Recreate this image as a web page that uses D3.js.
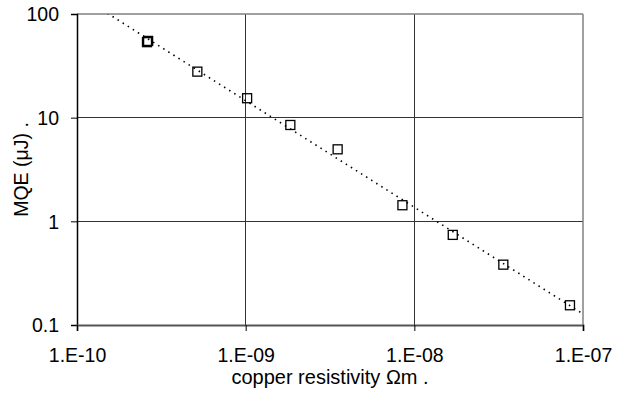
<!DOCTYPE html>
<html>
<head>
<meta charset="utf-8">
<script src="https://cdn.jsdelivr.net/npm/d3@7"></script>
<style>
  body { margin: 0; background: #fff; }
  text { font-family: "Liberation Sans", Arial, sans-serif; fill: #000; }
</style>
</head>
<body>
<div id="chart"></div>
<script>
// copper resistivity (Ohm m) vs MQE (uJ)
const resistivity = [2.6e-10, 2.64e-10, 5.17e-10, 1.02e-9, 1.84e-9, 3.51e-9, 8.5e-9, 1.69e-8, 3.37e-8, 8.37e-8];
const mqe = [53.5, 55, 27.8, 15.4, 8.5, 4.95, 1.43, 0.74, 0.382, 0.155];
const xTicks = [1e-10, 1e-9, 1e-8, 1e-7];
const xTickLabels = ['1.E-10', '1.E-09', '1.E-08', '1.E-07'];
const yTicks = [0.1, 1, 10, 100];
const yTickLabels = ['0.1', '1', '10', '100'];

const width = 625, height = 394;
const margin = { top: 14, right: 42, bottom: 69, left: 77 };
const w = width - margin.left - margin.right;
const h = height - margin.top - margin.bottom;
const fs = 19.5;

const svg = d3.select('#chart').append('svg')
  .attr('width', width)
  .attr('height', height);

const x = d3.scaleLog().domain([1e-10, 1e-7]).range([0, w]);
const y = d3.scaleLog().domain([0.1, 100]).range([h, 0]);

const g = svg.append('g').attr('transform', `translate(${margin.left},${margin.top})`);

// gridlines
g.selectAll('.hgrid').data(yTicks.slice(1, 3)).enter().append('line')
  .attr('x1', 0).attr('x2', w)
  .attr('y1', d => y(d)).attr('y2', d => y(d))
  .attr('stroke', '#333').attr('stroke-width', 1).attr('shape-rendering', 'crispEdges');
g.selectAll('.vgrid').data(xTicks.slice(1, 3)).enter().append('line')
  .attr('y1', 0).attr('y2', h)
  .attr('x1', d => x(d)).attr('x2', d => x(d))
  .attr('stroke', '#333').attr('stroke-width', 1).attr('shape-rendering', 'crispEdges');

// frame
g.append('line').attr('x1', 0).attr('x2', w).attr('y1', 0).attr('y2', 0)
  .attr('stroke', '#808080').attr('stroke-width', 1.5);
g.append('line').attr('x1', w).attr('x2', w).attr('y1', 0).attr('y2', h)
  .attr('stroke', '#808080').attr('stroke-width', 1.5);

// axes
const yAxis = g.append('g')
  .call(d3.axisLeft(y).tickValues(yTicks).tickFormat((d, i) => yTickLabels[i]).tickSize(6).tickPadding(12));
yAxis.select('.domain').attr('stroke', '#000').attr('stroke-width', 1.5);
yAxis.selectAll('.tick line').attr('stroke', '#000');
yAxis.selectAll('.tick text').attr('font-size', fs).attr('dy', '0.35em');

const xAxis = g.append('g').attr('transform', `translate(0,${h})`)
  .call(d3.axisBottom(x).tickValues(xTicks).tickFormat((d, i) => xTickLabels[i]).tickSize(6));
xAxis.select('.domain').attr('stroke', '#555').attr('stroke-width', 2);
xAxis.selectAll('.tick line').attr('stroke', '#000');
xAxis.selectAll('.tick text').attr('font-size', fs).attr('y', 36.5).attr('dy', 0);
yAxis.attr('font-family', null);
xAxis.attr('font-family', null);

// power-law trendline (least squares in log-log)
const lx = resistivity.map(Math.log10), ly = mqe.map(Math.log10);
const mx = d3.mean(lx), my = d3.mean(ly);
const b = d3.sum(lx, (v, i) => (v - mx) * (ly[i] - my)) / d3.sum(lx, v => (v - mx) * (v - mx));
const a = my - b * mx;
const fit = d3.range(0, 61).map(i => {
  const xv = Math.pow(10, -10 + i * 3 / 60);
  return [xv, Math.pow(10, a + b * Math.log10(xv))];
});

svg.append('clipPath').attr('id', 'clip').append('rect').attr('width', w).attr('height', h);
g.append('path')
  .datum(fit)
  .attr('clip-path', 'url(#clip)')
  .attr('fill', 'none')
  .attr('stroke', '#000')
  .attr('stroke-width', 1.6)
  .attr('stroke-dasharray', '1.5,4.5')
  .attr('d', d3.line().x(d => x(d[0])).y(d => y(d[1])));

// markers
g.selectAll('.pt').data(resistivity).enter().append('rect')
  .attr('x', d => x(d) - 4.5)
  .attr('y', (d, i) => y(mqe[i]) - 4.5)
  .attr('width', 9).attr('height', 9)
  .attr('fill', 'none')
  .attr('stroke', '#000')
  .attr('stroke-width', 1.3);

// titles
svg.append('text')
  .attr('x', margin.left + w / 2)
  .attr('y', 384)
  .attr('text-anchor', 'middle')
  .attr('font-size', 20)
  .text('copper resistivity \u03A9m .');

svg.append('text')
  .attr('transform', 'translate(28,169.5) rotate(-90)')
  .attr('text-anchor', 'middle')
  .attr('font-size', 19.5)
  .text('MQE (\u03BCJ) .');
</script>
</body>
</html>
